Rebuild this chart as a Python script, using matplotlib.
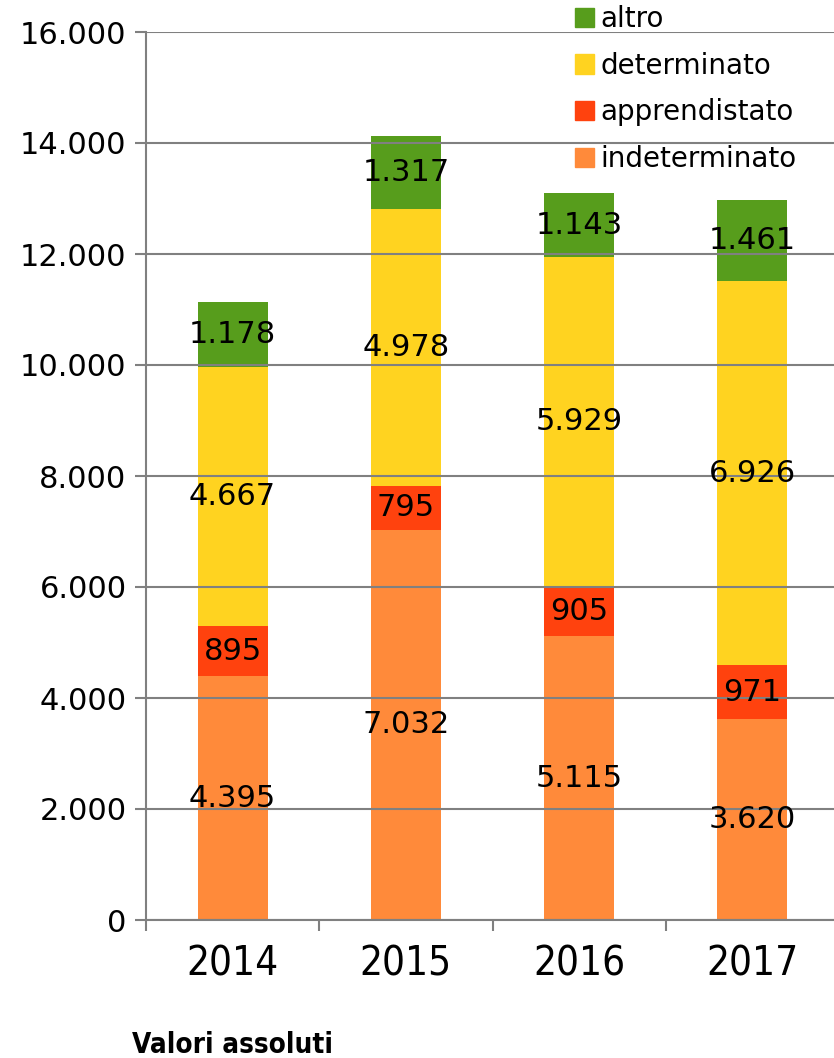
import numpy as np
import matplotlib
matplotlib.use("Agg")
import matplotlib.pyplot as plt
from matplotlib.patches import Patch

# dati del grafico
anni = ["2014", "2015", "2016", "2017"]
indeterminato = [4395, 7032, 5115, 3620]
apprendistato = [895, 795, 905, 971]
determinato = [4667, 4978, 5929, 6926]
altro = [1178, 1317, 1143, 1461]

serie = [("indeterminato", indeterminato, "#FF8A3A"),
         ("apprendistato", apprendistato, "#FF420E"),
         ("determinato", determinato, "#FFD320"),
         ("altro", altro, "#579D1C")]

def fmt(v):
    return f"{v:,}".replace(",", ".")

plt.rcParams['font.family'] = ['DejaVu Sans']
grigio = "#808080"

fig = plt.figure(figsize=(8.34, 10.58), dpi=100)
ax = fig.add_axes([146/834, 138/1058, 693/834, 888/1058])

x = np.arange(len(anni))
base = np.zeros(len(anni))
for nome, valori, colore in serie:
    valori = np.array(valori)
    ax.bar(x, valori, width=0.405, bottom=base, color=colore, zorder=1, label=nome)
    for xi, b, v in zip(x, base, valori):
        ax.text(xi, b + v / 2, fmt(v), ha="center", va="center", fontsize=22, zorder=4)
    base = base + valori

ax.set_xlim(-0.5, 3.5)
ax.set_ylim(0, 16000)
ax.set_yticks(np.arange(0, 16001, 2000))
ax.set_yticklabels([fmt(v) for v in range(0, 16001, 2000)], fontsize=22)
ax.yaxis.grid(True, color=grigio, linewidth=1.5, zorder=3)
ax.set_axisbelow(False)

ax.set_xticks(x)
ax.set_xticklabels(anni, fontsize=29, fontstretch="condensed")
ax.set_xticks(np.arange(-0.5, 3.6, 1), minor=True)
ax.tick_params(axis="x", which="major", length=0, pad=18)
ax.tick_params(axis="x", which="minor", length=8, width=1.5, color=grigio, direction="out")
ax.tick_params(axis="y", length=8, width=1.5, color=grigio, direction="out", pad=6)

for s in ["top", "right"]:
    ax.spines[s].set_visible(False)
for s in ["left", "bottom"]:
    ax.spines[s].set_color(grigio)
    ax.spines[s].set_linewidth(1.5)
    ax.spines[s].set_zorder(3)

# legenda, in ordine inverso
maniglie = [Patch(color=c, label=n) for n, _, c in reversed(serie)]
fig.legend(handles=maniglie, loc="upper left", bbox_to_anchor=(564/834, 1 + 6/1058),
           frameon=False, fontsize=20, handlelength=0.68, handleheight=0.68,
           handletextpad=0.22, labelspacing=0.67, borderaxespad=0)

fig.text(233/834, 1 - 1045/1058, "Valori assoluti", ha="center", va="center",
         fontsize=20, fontweight="bold", fontstretch="condensed")

fig.savefig("out.png", dpi=100)
